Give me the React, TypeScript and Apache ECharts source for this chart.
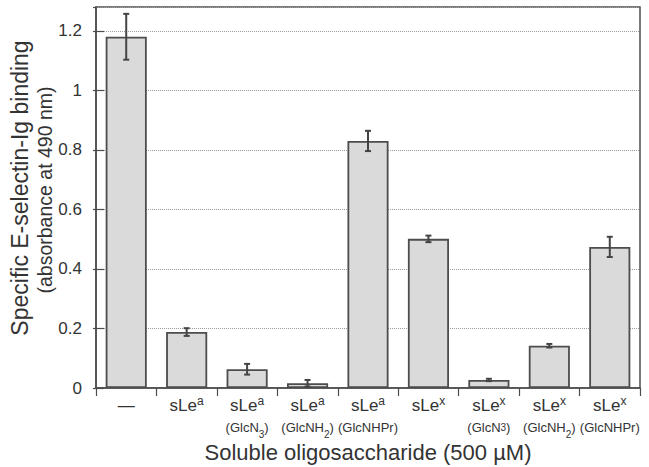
import React, { useEffect, useRef } from "react";
import * as echarts from "echarts";

// ---- data ----
const categories = [
  "—",
  "sLea",
  "sLea (GlcN3)",
  "sLea (GlcNH2)",
  "sLea (GlcNHPr)",
  "sLex",
  "sLex (GlcN3)",
  "sLex (GlcNH2)",
  "sLex (GlcNHPr)",
];
const labelMain = ["—", "sLe", "sLe", "sLe", "sLe", "sLe", "sLe", "sLe", "sLe"];
const labelSup = ["", "a", "a", "a", "a", "x", "x", "x", "x"];
const labelMod = ["", "", "GlcN", "GlcNH", "GlcNHPr", "", "GlcN", "GlcNH", "GlcNHPr"];
const labelModSub = ["", "", "3", "2", "", "", "3", "2", ""];
const subDeep = [false, false, true, true, false, false, false, true, false];

const values = [1.18, 0.188, 0.063, 0.016, 0.83, 0.501, 0.027, 0.142, 0.474];
const errors = [0.077, 0.013, 0.018, 0.011, 0.034, 0.011, 0.004, 0.006, 0.034];

const yMin = 0;
const yMax = 1.28;
const yInterval = 0.2;

const xTitle = "Soluble oligosaccharide (500 µM)";
const yTitle1 = "Specific E-selectin-Ig binding";
const yTitle2 = "(absorbance at 490 nm)";

const FONT = "'Liberation Sans', Arial, Helvetica, sans-serif";
const TEXT = "#333";
const LINE = "#4d4d4d";

function buildLabel(i: number): string {
  let s = `{m|${labelMain[i]}}`;
  if (labelSup[i]) s += `{sup|${labelSup[i]}}`;
  if (labelMod[i]) {
    s += `\n{t|(${labelMod[i]}}`;
    if (labelModSub[i]) s += `{${subDeep[i] ? "subD" : "subS"}|${labelModSub[i]}}`;
    s += `{t|)}`;
  }
  return s;
}

export default function App() {
  const ref = useRef<HTMLDivElement>(null);
  useEffect(() => {
    if (!ref.current) return;
    const chart = echarts.init(ref.current, undefined, { renderer: "svg" });
    const errData = values.map((v, i) => [i, v, errors[i]]);
    chart.setOption({
      animation: false,
      textStyle: { fontFamily: FONT },
      grid: {
        left: 96,
        right: 9,
        top: 7,
        bottom: 79,
        containLabel: false,
        outerBoundsMode: "none",
        show: true,
        borderColor: LINE,
        borderWidth: 1.5,
        backgroundColor: "transparent",
      },
      xAxis: {
        type: "category",
        data: categories,
        axisLine: { show: true, lineStyle: { color: LINE, width: 1.5 } },
        axisTick: { show: true, inside: false, length: 8, interval: 0, lineStyle: { color: LINE, width: 1.2 } },
        axisLabel: {
          interval: 0,
          margin: 7,
          hideOverlap: false,
          color: TEXT,
          fontFamily: FONT,
          formatter: (_v: string, idx: number) => buildLabel(idx),
          rich: {
            m: { fontSize: 17, lineHeight: 20, color: TEXT, fontFamily: FONT },
            sup: { fontSize: 12, verticalAlign: "top", color: TEXT, fontFamily: FONT },
            t: { fontSize: 13, height: 24, lineHeight: 20, verticalAlign: "top", color: TEXT, fontFamily: FONT },
            subD: { fontSize: 10, lineHeight: 39, color: TEXT, fontFamily: FONT },
            subS: { fontSize: 10, lineHeight: 24, color: TEXT, fontFamily: FONT },
          },
        },
        name: xTitle,
        nameLocation: "middle",
        nameGap: 53,
        nameMoveOverlap: false,
        nameTextStyle: { fontSize: 22, color: TEXT, fontFamily: FONT },
      },
      yAxis: [
        {
          type: "value",
          min: yMin,
          max: yMax,
          interval: yInterval,
          axisLine: { show: true, lineStyle: { color: LINE, width: 1.5 } },
          axisTick: { show: true, inside: true, length: 8, lineStyle: { color: LINE, width: 1.2 } },
          axisLabel: {
            margin: 14,
            fontSize: 17,
            color: TEXT,
            fontFamily: FONT,
            showMaxLabel: false,
          },
          splitLine: { show: true, lineStyle: { color: "#9a9a9a", type: "dotted", width: 1 } },
        },
        {
          type: "value",
          min: yMin,
          max: yMax,
          interval: yInterval,
          position: "left",
          axisLine: { show: false },
          axisTick: { show: true, inside: false, length: 3, lineStyle: { color: LINE, width: 1.2 } },
          axisLabel: { show: false },
          splitLine: { show: false },
        },
      ],
      graphic: [
        {
          type: "text",
          x: 20,
          y: 188,
          rotation: Math.PI / 2,
          style: {
            text: yTitle1,
            fontSize: 23,
            fontFamily: FONT,
            fill: TEXT,
            textAlign: "center",
            textVerticalAlign: "middle",
          },
        },
        {
          type: "text",
          x: 45,
          y: 190,
          rotation: Math.PI / 2,
          style: {
            text: yTitle2,
            fontSize: 19.5,
            fontFamily: FONT,
            fill: TEXT,
            textAlign: "center",
            textVerticalAlign: "middle",
          },
        },
      ],
      series: [
        {
          type: "bar",
          data: values,
          barWidth: "68%",
          itemStyle: { color: "#dadada", borderColor: LINE, borderWidth: 1.8 },
          z: 2,
        },
        {
          type: "custom",
          data: errData,
          z: 3,
          encode: { x: 0, y: 1 },
          renderItem: (params: any, api: any) => {
            const i = api.value(0);
            const v = api.value(1);
            const e = api.value(2);
            const top = api.coord([i, v + e]);
            const bot = api.coord([i, v - e]);
            const hw = 3;
            const style = { stroke: "#444", lineWidth: 2 };
            return {
              type: "group",
              children: [
                { type: "line", shape: { x1: top[0], y1: top[1], x2: bot[0], y2: bot[1] }, style },
                { type: "line", shape: { x1: top[0] - hw, y1: top[1], x2: top[0] + hw, y2: top[1] }, style },
                { type: "line", shape: { x1: bot[0] - hw, y1: bot[1], x2: bot[0] + hw, y2: bot[1] }, style },
              ],
            };
          },
        },
      ],
    });
    return () => chart.dispose();
  }, []);
  return (
    <div
      ref={ref}
      style={{ position: "fixed", left: 0, top: 0, width: 649, height: 467, background: "#fff" }}
    />
  );
}
